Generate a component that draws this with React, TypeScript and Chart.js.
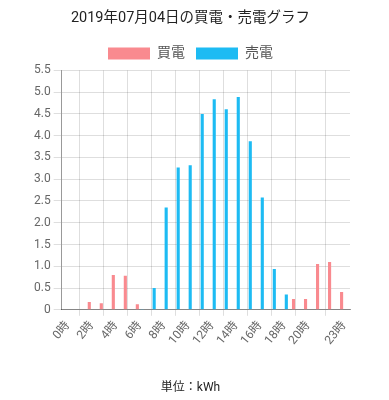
import React, { useEffect, useRef } from "react";
import { Chart, registerables } from "chart.js";

Chart.register(...registerables);

const hours: string[] = Array.from({ length: 24 }, (_, i) => `${i}時`);
const shownTicks: number[] = [0, 2, 4, 6, 8, 10, 12, 14, 16, 18, 20, 23];
const buyValues: number[] = [0, 0, 0.18, 0.15, 0.8, 0.78, 0.13, 0, 0, 0, 0, 0, 0, 0, 0, 0, 0, 0, 0, 0.25, 0.25, 1.05, 1.1, 0.41];
const sellValues: number[] = [0, 0, 0, 0, 0, 0, 0.02, 0.5, 2.35, 3.27, 3.32, 4.5, 4.84, 4.61, 4.89, 3.87, 2.58, 0.94, 0.35, 0, 0, 0, 0, 0];
const titleText = "2019年07月04日の買電・売電グラフ";
const unitText = "単位：kWh";

const FONT = "Roboto, 'Noto Sans CJK JP', sans-serif";

export default function App() {
  const ref = useRef<HTMLCanvasElement | null>(null);
  useEffect(() => {
    if (!ref.current) return;
    const chart = new Chart(ref.current, {
      type: "bar",
      data: {
        labels: hours,
        datasets: [
          { label: "買電", data: buyValues, backgroundColor: "#f98a8f", borderWidth: 0, barPercentage: 0.65, categoryPercentage: 0.8 },
          { label: "売電", data: sellValues, backgroundColor: "#1dbbf3", borderWidth: 0, barPercentage: 0.65, categoryPercentage: 0.8 },
        ],
      },
      options: {
        animation: false,
        responsive: true,
        maintainAspectRatio: false,
        layout: { padding: { right: 31, left: 23 } },
        plugins: {
          title: {
            display: true,
            text: titleText,
            color: "#222",
            font: { family: FONT, size: 14.5, weight: "normal" },
            padding: { top: 2, bottom: 8 },
          },
          subtitle: {
            display: true,
            position: "bottom",
            text: unitText,
            color: "#222",
            font: { family: FONT, size: 12, weight: "normal" },
            padding: { top: 30, bottom: 5 },
          },
          legend: {
            labels: {
              boxWidth: 42,
              boxHeight: 12,
              color: "#555",
              font: { family: FONT, size: 14 },
              padding: 11,
            },
          },
          tooltip: { enabled: false },
        },
        scales: {
          x: {
            grid: { color: "rgba(0,0,0,0.13)", offset: true, tickLength: 6 },
            border: { color: "rgba(0,0,0,0.4)" },
            ticks: {
              autoSkip: false,
              maxRotation: 50,
              minRotation: 50,
              color: "#666",
              font: { family: FONT, size: 12 },
              callback: (v: any, i: number) => (shownTicks.includes(i) ? hours[i] : null),
            },
          },
          y: {
            min: 0,
            max: 5.5,
            grid: { color: "rgba(0,0,0,0.13)", tickLength: 8 },
            border: { color: "rgba(0,0,0,0.4)" },
            ticks: {
              stepSize: 0.5,
              color: "#666",
              font: { family: FONT, size: 12 },
            },
          },
        },
      },
    });
    return () => chart.destroy();
  }, []);
  return (
    <div style={{ width: 373, height: 392, position: "relative" }}>
      <canvas ref={ref} />
    </div>
  );
}
